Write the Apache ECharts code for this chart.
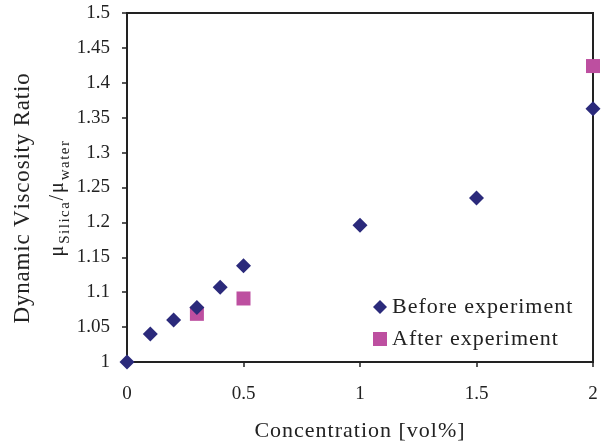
<!DOCTYPE html>
<html><head><meta charset="utf-8">
<script src="https://cdn.jsdelivr.net/npm/echarts@6/dist/echarts.min.js"></script>
<style>html,body{margin:0;padding:0;background:#fff}#c{width:609px;height:443px}</style>
</head><body><div id="c"></div>
<script>
const xTicks = [0, 0.5, 1, 1.5, 2];
const beforeX = [0, 0.1, 0.2, 0.3, 0.4, 0.5, 1, 1.5, 2];
const beforeY = [1.0, 1.04, 1.06, 1.078, 1.107, 1.138, 1.196, 1.235, 1.363];
const afterX = [0.3, 0.5, 2];
const afterY = [1.069, 1.091, 1.424];
const seriesNames = ['Before experiment', 'After experiment'];
const xTitle = 'Concentration [vol%]';
const yTitle = 'Dynamic Viscosity Ratio';

const font = 'Liberation Serif';
const ink = '#222';
function spaced(t, key) { return t.split('').map(c => '{' + key + '|' + c + '}').join(''); }

const chart = echarts.init(document.getElementById('c'));
chart.setOption({
  animation: false,
  grid: { left: 127, right: 16, top: 13, bottom: 81, show: true, borderColor: ink, borderWidth: 2,
    containLabel: false, outerBoundsMode: 'none' },
  xAxis: {
    type: 'value', min: 0, max: 2, interval: 0.5,
    name: spaced(xTitle, 'n'), nameLocation: 'middle', nameGap: 58,
    nameTextStyle: { fontFamily: font, fontSize: 22, color: ink,
      rich: { n: { fontFamily: font, fontSize: 22, color: ink, padding: [0, 1, 0, 0] } } },
    axisLine: { lineStyle: { color: ink, width: 2 } },
    axisTick: { show: true, length: 5, lineStyle: { color: ink, width: 1.5 } },
    axisLabel: { fontFamily: font, fontSize: 19, color: ink, margin: 23 },
    splitLine: { show: false }
  },
  yAxis: {
    type: 'value', min: 1, max: 1.5, interval: 0.05,
    axisLine: { lineStyle: { color: ink, width: 2 } },
    axisTick: { show: true, length: 5, lineStyle: { color: ink, width: 1.5 } },
    axisLabel: { fontFamily: font, fontSize: 19, color: ink, margin: 17 },
    splitLine: { show: false }
  },
  legend: {
    left: 368, top: 291, orient: 'vertical', itemGap: 10, itemWidth: 14, itemHeight: 14,
    formatter: n => spaced(n, 'l'),
    textStyle: { fontFamily: font, fontSize: 22, color: ink, lineHeight: 22,
      rich: { l: { fontFamily: font, fontSize: 22, color: ink, lineHeight: 22, padding: [0, 1, 0, 0] } } },
    data: [{ name: seriesNames[0], icon: 'diamond' }, { name: seriesNames[1], icon: 'rect' }]
  },
  graphic: [
    { type: 'text', x: 11, y: 198, rotation: Math.PI / 2,
      style: { text: spaced(yTitle, 'a'), fill: ink, align: 'center', verticalAlign: 'top',
        rich: { a: { fontFamily: font, fontSize: 23, fill: ink, padding: [0, 0.8, 0, 0] } } } },
    { type: 'text', x: 48, y: 198, rotation: Math.PI / 2,
      style: {
        text: '{m|μ}' + spaced('Silica', 's') + '{m|/}{m|μ}' + spaced('water', 's'),
        fill: ink, align: 'center', verticalAlign: 'top',
        rich: {
          m: { fontFamily: font, fontSize: 20, verticalAlign: 'bottom', padding: [0, 2, 5, 0], fill: ink },
          s: { fontFamily: font, fontSize: 15, verticalAlign: 'bottom', padding: [0, 1.5, 0, 0], fill: ink }
        }
      } }
  ],
  series: [
    { name: seriesNames[0], type: 'scatter', symbol: 'diamond', symbolSize: 15, clip: false,
      itemStyle: { color: '#2b2a7b', opacity: 1 }, data: beforeX.map((x, i) => [x, beforeY[i]]), z: 3 },
    { name: seriesNames[1], type: 'scatter', symbol: 'rect', symbolSize: 14, clip: false,
      itemStyle: { color: '#bd4fa0', opacity: 1 }, data: afterX.map((x, i) => [x, afterY[i]]), z: 2 }
  ]
});
</script></body></html>
